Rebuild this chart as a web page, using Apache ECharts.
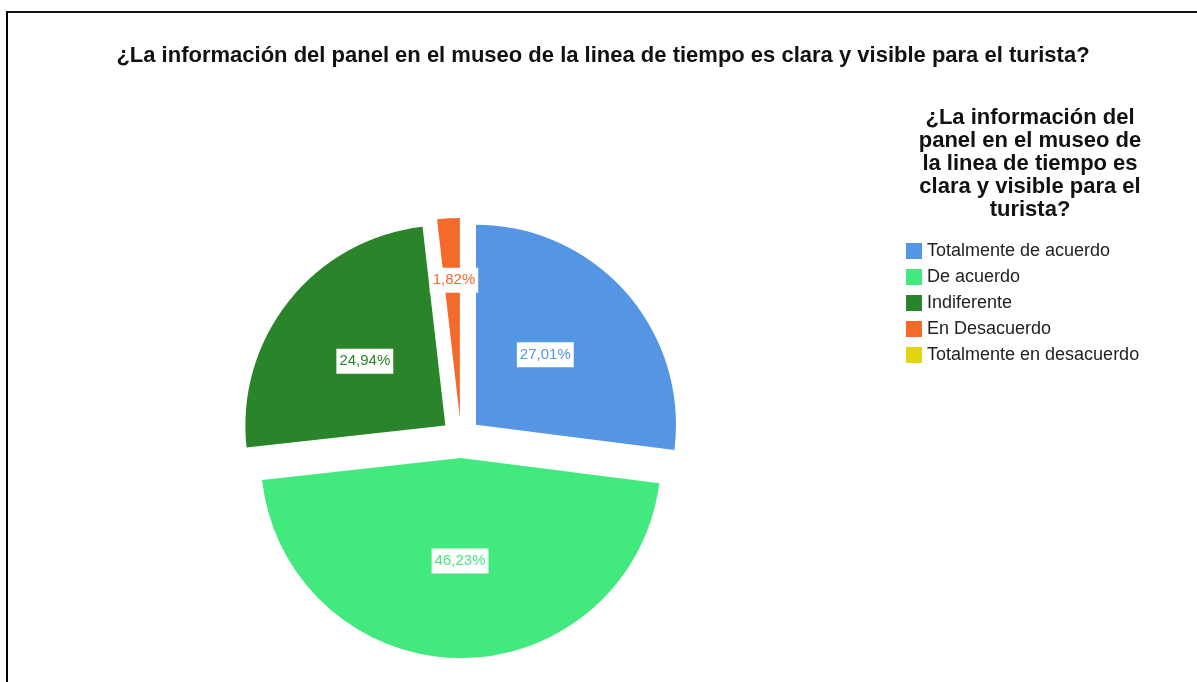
<!DOCTYPE html>
<html>
<head>
<meta charset="utf-8">
<script src="https://cdn.jsdelivr.net/npm/echarts@6/dist/echarts.min.js"></script>
<style>
  html, body { margin: 0; padding: 0; background: #fff; }
  #main { width: 1197px; height: 682px; }
</style>
</head>
<body>
<div id="main"></div>
<script>
var chartDom = document.getElementById('main');
var myChart = echarts.init(chartDom);
var option;

var question = '¿La información del panel en el museo de la linea de tiempo es clara y visible para el turista?';
var legendTitle = '¿La información del\npanel en el museo de\nla linea de tiempo es\nclara y visible para el\nturista?';

// respuestas y porcentajes
var categories = ['Totalmente de acuerdo', 'De acuerdo', 'Indiferente', 'En Desacuerdo', 'Totalmente en desacuerdo'];
var percents = [27.01, 46.23, 24.94, 1.82, 0];
var colors = ['#5596e4', '#42e97f', '#2a852a', '#f46a2b', '#e3d412'];

var pieData = categories.map(function (name, i) {
  return {
    name: name,
    value: percents[i],
    selected: true,
    itemStyle: { color: colors[i] },
    label: { show: percents[i] > 0, color: colors[i] }
  };
});

option = {
  animation: false,
  textStyle: { fontFamily: 'Liberation Sans' },
  title: [
    {
      text: question,
      left: 598,
      top: 40,
      textAlign: 'center',
      textStyle: { fontSize: 22, fontWeight: 'bold', color: '#111', fontFamily: 'Liberation Sans' }
    },
    {
      text: legendTitle,
      left: 1025,
      top: 101,
      textAlign: 'center',
      textStyle: { fontSize: 22, lineHeight: 23, fontWeight: 'bold', color: '#111', fontFamily: 'Liberation Sans' }
    }
  ],
  legend: {
    orient: 'vertical',
    left: 906,
    top: 242,
    padding: 0,
    icon: 'rect',
    itemWidth: 16,
    itemHeight: 16,
    itemGap: 8,
    selectedMode: false,
    data: categories,
    textStyle: { fontSize: 18, color: '#222', fontFamily: 'Liberation Sans' }
  },
  graphic: [
    { type: 'line', shape: { x1: 7, y1: 12, x2: 1197, y2: 12 }, style: { stroke: '#111', lineWidth: 2 } },
    { type: 'line', shape: { x1: 7, y1: 11, x2: 7, y2: 682 }, style: { stroke: '#000', lineWidth: 2 } }
  ],
  series: [
    {
      type: 'pie',
      center: [461, 438],
      radius: 200,
      startAngle: 90,
      selectedMode: 'multiple',
      selectedOffset: 20,
      avoidLabelOverlap: false,
      label: {
        show: true,
        position: 'inside',
        fontSize: 15,
        fontFamily: 'Liberation Sans',
        backgroundColor: '#fff',
        padding: [5, 3],
        formatter: function (p) {
          return p.value.toFixed(2).replace('.', ',') + '%';
        }
      },
      labelLine: { show: false },
      emphasis: { disabled: true },
      select: { itemStyle: { borderWidth: 0 } },
      labelLayout: function (params) {
        // la etiqueta de la porción pequeña va más afuera
        if (params.dataIndex === 3) {
          return { dy: -35 };
        }
        if (params.dataIndex === 0) {
          return { dx: -8, dy: -2 };
        }
      },
      data: pieData
    }
  ]
};

option && myChart.setOption(option);
</script>
</body>
</html>
